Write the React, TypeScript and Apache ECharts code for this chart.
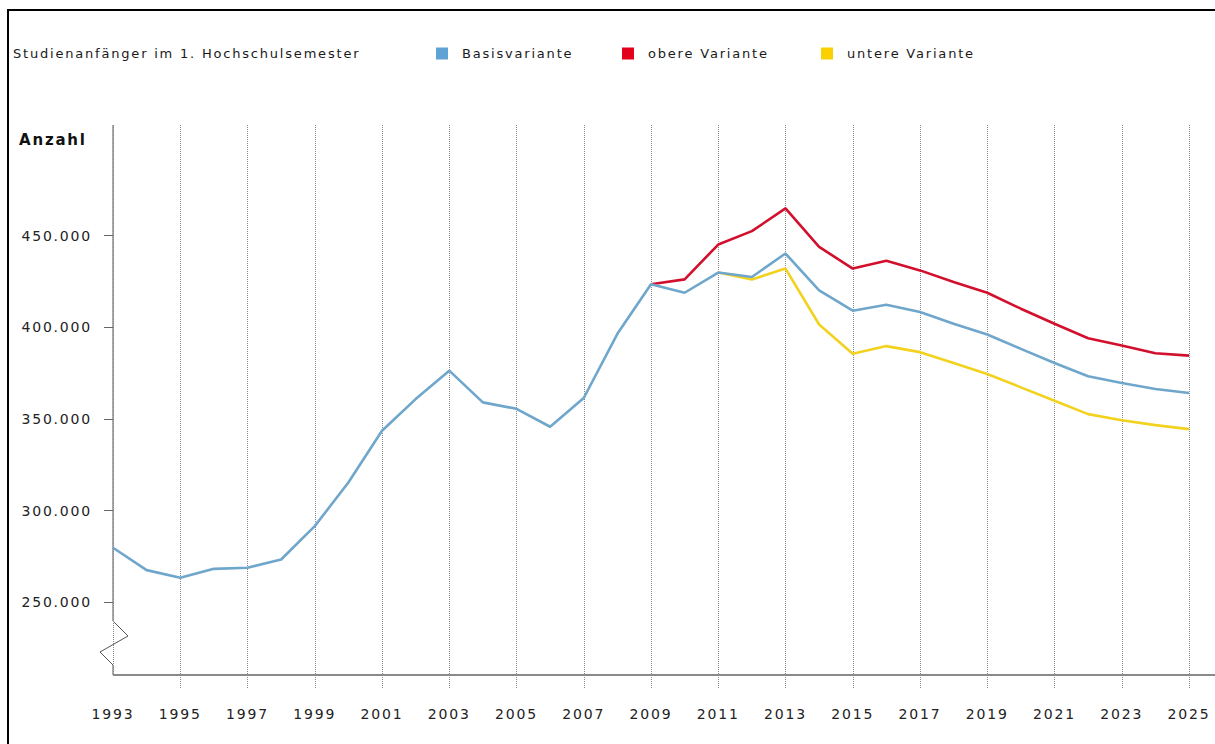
import React, { useEffect, useRef } from "react";
import * as echarts from "echarts";

const years = [
  "1993", "1994", "1995", "1996", "1997", "1998", "1999", "2000", "2001", "2002",
  "2003", "2004", "2005", "2006", "2007", "2008", "2009", "2010", "2011", "2012",
  "2013", "2014", "2015", "2016", "2017", "2018", "2019", "2020", "2021", "2022",
  "2023", "2024", "2025",
];

const basisvariante = [
  279700, 267500, 263300, 268200, 268800, 273300, 291500, 315300, 343500, 360800,
  376300, 359000, 355500, 345700, 361400, 396400, 423400, 418800, 429800, 427400,
  440200, 420100, 409000, 412300, 408300, 401900, 396000, 388200, 380500, 373300,
  369600, 366300, 364100,
];

const obereVariante = [
  null, null, null, null, null, null, null, null, null, null,
  null, null, null, null, null, null, 423400, 426100, 445100, 452400,
  464800, 443800, 432000, 436200, 431000, 424700, 418800, 410100, 401900, 394000,
  390000, 385800, 384500,
];

const untereVariante = [
  null, null, null, null, null, null, null, null, null, null,
  null, null, null, null, null, null, null, null, 429800, 426000,
  432000, 401500, 385500, 389700, 386400, 380500, 374500, 367200, 359900, 352600,
  349300, 346600, 344400,
];

const yTicks = [250000, 300000, 350000, 400000, 450000];

const seriesNames = ["Basisvariante", "obere Variante", "untere Variante"];
const lineColors = ["#6fa6cb", "#d2102e", "#f2d21e"];
const legendColors = ["#5ea3d3", "#e2001a", "#fbd000"];

const W = 1215;
const H = 744;
const GRID_LEFT = 113;
const GRID_TOP = 125;
const GRID_RIGHT = 26;
const GRID_BOTTOM = 69;
const FONT = "'DejaVu Sans', Verdana, sans-serif";

export default function App() {
  const ref = useRef<HTMLDivElement>(null);

  useEffect(() => {
    if (!ref.current) return;
    const chart = echarts.init(ref.current, undefined, { renderer: "svg" });
    const axisY = H - GRID_BOTTOM;
    const legendLefts = [436, 622, 821];

    const option: any = {
      animation: false,
      backgroundColor: "#ffffff",
      textStyle: { fontFamily: FONT },
      grid: { left: GRID_LEFT, top: GRID_TOP, right: GRID_RIGHT, bottom: GRID_BOTTOM },
      legend: seriesNames.map((n, i) => ({
        left: legendLefts[i],
        top: 47,
        padding: 0,
        icon: "rect",
        itemWidth: 12,
        itemHeight: 12,
        selectedMode: false,
        data: [{ name: n, itemStyle: { color: legendColors[i] } }],
        textStyle: {
          fontFamily: FONT,
          fontSize: 13,
          color: "#1a1a1a",
          padding: [0, 0, 0, 9],
        },
      })),
      xAxis: {
        type: "category",
        data: years,
        boundaryGap: false,
        axisLine: { show: false },
        axisTick: {
          show: true,
          interval: (idx: number) => idx > 0 && idx % 2 === 0,
          length: 14,
          lineStyle: { color: "#888", type: "dotted", width: 1 },
        },
        axisLabel: {
          interval: 1,
          margin: 32,
          fontFamily: FONT,
          fontSize: 14,
          color: "#222",
        },
        splitLine: {
          show: true,
          interval: 1,
          lineStyle: { color: "#888", type: "dotted", width: 1 },
        },
      },
      yAxis: {
        type: "value",
        min: 210300,
        max: 510300,
        axisLine: { show: false },
        axisTick: {
          show: true,
          customValues: yTicks,
          length: 9,
          lineStyle: { color: "#666" },
        },
        axisLabel: {
          customValues: yTicks,
          margin: 21,
          fontFamily: FONT,
          fontSize: 14,
          color: "#222",
          formatter: (v: number) => String(Math.round(v / 1000)) + ".000",
        },
        splitLine: { show: false },
      },
      graphic: [
        {
          type: "text",
          left: 13,
          top: 47,
          style: {
            text: "Studienanfänger im 1. Hochschulsemester",
            font: `13px ${FONT}`,
            fill: "#1a1a1a",
          },
        },
        {
          type: "text",
          left: 19,
          top: 132,
          style: {
            text: "Anzahl",
            font: `bold 15px ${FONT}`,
            fill: "#111",
          },
        },
        {
          type: "polyline",
          shape: {
            points: [
              [GRID_LEFT, GRID_TOP],
              [GRID_LEFT, axisY - 54],
              [GRID_LEFT + 15, axisY - 39],
              [GRID_LEFT - 13, axisY - 23],
              [GRID_LEFT, axisY - 10],
              [GRID_LEFT, axisY],
            ],
          },
          style: { stroke: "#555", lineWidth: 1, fill: "none" },
          silent: true,
        },
        {
          type: "line",
          shape: { x1: GRID_LEFT, y1: axisY, x2: W, y2: axisY },
          style: { stroke: "#8a8a8a", lineWidth: 2 },
          silent: true,
        },
      ],
      series: [
        {
          name: seriesNames[1],
          type: "line",
          data: obereVariante,
          showSymbol: false,
          lineStyle: { color: lineColors[1], width: 2.6 },
          itemStyle: { color: lineColors[1] },
        },
        {
          name: seriesNames[2],
          type: "line",
          data: untereVariante,
          showSymbol: false,
          lineStyle: { color: lineColors[2], width: 2.6 },
          itemStyle: { color: lineColors[2] },
        },
        {
          name: seriesNames[0],
          type: "line",
          data: basisvariante,
          showSymbol: false,
          lineStyle: { color: lineColors[0], width: 2.6 },
          itemStyle: { color: lineColors[0] },
        },
      ],
    };

    chart.setOption(option);
    return () => chart.dispose();
  }, []);

  return (
    <>
      <div
        ref={ref}
        style={{
          position: "absolute",
          left: 0,
          top: 0,
          width: W,
          height: H,
          letterSpacing: "1.8px",
        }}
      />
      <div
        style={{
          position: "absolute",
          left: 7,
          top: 9,
          width: W,
          height: H,
          borderTop: "2px solid #000",
          borderLeft: "2px solid #000",
          pointerEvents: "none",
          boxSizing: "border-box",
        }}
      />
    </>
  );
}
